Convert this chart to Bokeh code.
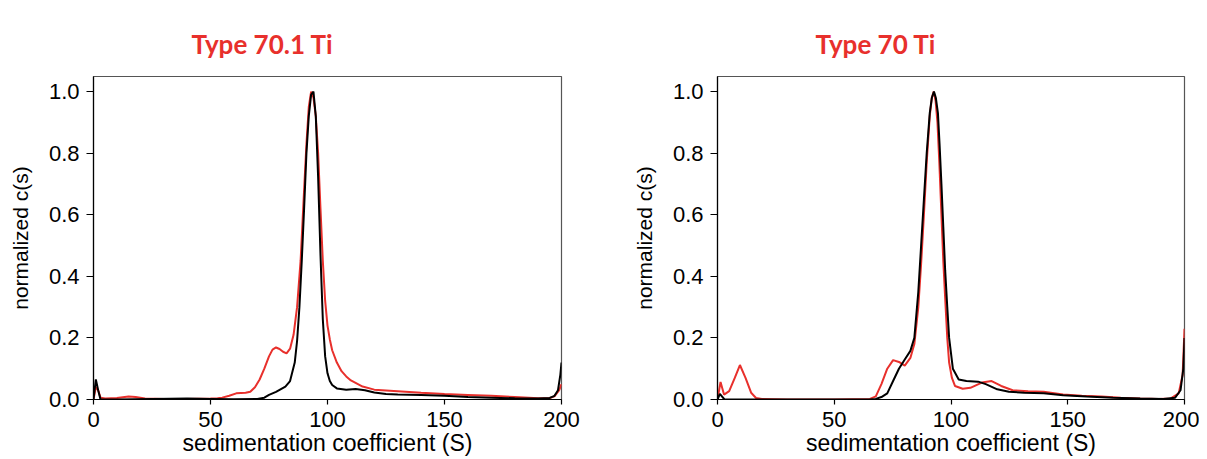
from bokeh.plotting import figure
from bokeh.layouts import row
from bokeh.models import Range1d, FixedTicker
from bokeh.embed import file_html
from bokeh.resources import INLINE

titles = ["Type 70.1 Ti", "Type 70 Ti"]
x_label = "sedimentation coefficient (S)"
y_label = "normalized c(s)"
x_ticks = [0, 50, 100, 150, 200]
y_ticks = [0.0, 0.2, 0.4, 0.6, 0.8, 1.0]

# Type 70.1 Ti - red
l_red_x = [0, 1, 2, 3, 5, 10, 15, 18, 22, 30, 40, 50, 53, 55, 58, 61, 65, 67, 69, 71, 73, 75, 76.5, 78, 79.5,
           81, 82.5, 84, 85.5, 87, 88.5, 90, 91, 92, 93, 94, 95, 96, 97, 98, 99, 100, 101, 102, 104, 106, 108,
           110, 115, 120, 130, 140, 150, 160, 170, 180, 190, 195, 197, 199, 200]
l_red_y = [0.0, 0.04, 0.03, 0.006, 0.003, 0.005, 0.01, 0.008, 0.003, 0.002, 0.002, 0.003, 0.004, 0.006, 0.012,
           0.02, 0.022, 0.025, 0.04, 0.065, 0.1, 0.14, 0.162, 0.169, 0.164, 0.155, 0.15, 0.165, 0.21, 0.3, 0.45,
           0.68, 0.83, 0.95, 1.0, 0.98, 0.92, 0.8, 0.62, 0.45, 0.32, 0.24, 0.195, 0.16, 0.12, 0.092, 0.075,
           0.062, 0.042, 0.032, 0.027, 0.022, 0.018, 0.015, 0.012, 0.008, 0.004, 0.005, 0.01, 0.03, 0.05]

# Type 70.1 Ti - black
l_blk_x = [0, 1, 2, 3, 10, 40, 50, 60, 70, 73, 75, 78, 82, 84, 86, 87, 88, 89, 90, 91, 92, 93, 94, 95, 96, 97,
           98, 99, 100, 101, 102, 104, 108, 112, 116, 120, 125, 130, 140, 150, 160, 170, 180, 190, 195, 197,
           198.5, 199.5, 200]
l_blk_y = [0.0, 0.065, 0.03, 0.0, 0.0, 0.003, 0.002, 0.001, 0.002, 0.006, 0.015, 0.025, 0.042, 0.06, 0.12, 0.19,
           0.3, 0.45, 0.62, 0.8, 0.92, 0.99, 1.0, 0.92, 0.72, 0.47, 0.26, 0.14, 0.085, 0.06, 0.047, 0.036,
           0.032, 0.034, 0.03, 0.023, 0.018, 0.016, 0.015, 0.012, 0.008, 0.006, 0.004, 0.003, 0.005, 0.012,
           0.03, 0.08, 0.12]

# Type 70 Ti - red
r_red_x = [0, 1.3, 2.8, 5, 7.4, 9.6, 12, 14.4, 16.5, 19, 30, 50, 65.3, 67.8, 70.2, 72.7, 75.2, 77.7, 80.2, 82.6,
           84.3, 86, 87.2, 88.4, 89.6, 90.9, 91.8, 92.6, 93.4, 94.2, 95, 95.9, 96.7, 97.5, 98.4, 99.2, 100.4,
           101.7, 105, 108.3, 113.2, 117.4, 121.5, 126.4, 133, 139.7, 148, 156, 164.5, 172.7, 181, 189, 194,
           197.5, 199.2, 200]
r_red_y = [0.0, 0.057, 0.016, 0.027, 0.07, 0.112, 0.07, 0.022, 0.005, 0.002, 0.0, 0.0, 0.002, 0.01, 0.05, 0.1,
           0.128, 0.122, 0.11, 0.135, 0.18, 0.3, 0.44, 0.6, 0.77, 0.92, 0.98, 1.0, 0.97, 0.9, 0.77, 0.6, 0.45,
           0.33, 0.2, 0.12, 0.07, 0.044, 0.035, 0.038, 0.055, 0.06, 0.044, 0.03, 0.027, 0.025, 0.016, 0.012,
           0.01, 0.006, 0.003, 0.002, 0.003, 0.02, 0.08, 0.23]

# Type 70 Ti - black
r_blk_x = [0, 1, 3, 30, 65, 67.8, 70.2, 72.7, 75.2, 77.7, 80.2, 82.6, 84.3, 86, 87.2, 88.4, 89.6, 90.9, 91.8,
           92.7, 93.5, 94.4, 95.1, 95.9, 96.7, 97.5, 98.4, 99.2, 100.8, 103.3, 106.6, 111.6, 114.9, 119.8,
           124.8, 131.4, 139.7, 148, 158, 169.4, 181, 191, 196, 198.3, 199.5, 200]
r_blk_y = [0.0, 0.018, 0.0, 0.0, 0.0, 0.002, 0.008, 0.02, 0.06, 0.1, 0.13, 0.158, 0.2, 0.35, 0.5, 0.65, 0.8, 0.93,
           0.98, 1.0, 0.98, 0.93, 0.83, 0.7, 0.56, 0.42, 0.3, 0.2, 0.1, 0.065, 0.06, 0.058, 0.05, 0.033, 0.025,
           0.022, 0.02, 0.014, 0.01, 0.006, 0.003, 0.002, 0.006, 0.03, 0.1, 0.2]

RED = "#e8302c"
FONT = "Liberation Sans"


def make_panel(title, rx, ry, bx, by, width, right):
    p = figure(width=width, height=458, output_backend="svg", toolbar_location=None,
               x_range=Range1d(0, 200), y_range=Range1d(0, 1.049),
               min_border_left=93, min_border_right=right, min_border_top=76, min_border_bottom=56)
    p.title.text = title
    p.title.align = "left"
    p.title.vertical_align = "top"
    p.title.offset = 98
    p.title.standoff = 30
    p.title.text_color = RED
    p.title.text_font = "Lato"
    p.title.text_font_style = "bold"
    p.title.text_font_size = "26px"

    p.line(rx, ry, line_color=RED, line_width=2)
    p.line(bx, by, line_color="black", line_width=2)

    xaxis = p.below[0]
    yaxis = p.left[0]

    p.grid.visible = False
    p.outline_line_color = "#555555"
    p.outline_line_width = 1.2
    for ax in (xaxis, yaxis):
        ax.axis_line_color = "black"
        ax.axis_line_width = 1.2
        ax.major_tick_line_color = "black"
        ax.major_tick_line_width = 1.2
        ax.minor_tick_line_color = None
        ax.major_tick_in = 0
        ax.major_label_text_font = FONT
        ax.major_label_text_font_size = "22px"
        ax.major_label_text_color = "black"
        ax.axis_label_text_font = FONT
        ax.axis_label_text_font_style = "normal"
        ax.axis_label_text_color = "black"
    xaxis.axis_label_text_font_size = "23px"
    yaxis.axis_label_text_font_size = "21px"
    xaxis.ticker = FixedTicker(ticks=x_ticks)
    yaxis.ticker = FixedTicker(ticks=y_ticks)
    yaxis.major_tick_out = 7
    xaxis.major_tick_out = 5
    yaxis.major_label_overrides = {t: f"{t:.1f}" for t in y_ticks}
    xaxis.axis_label = x_label
    yaxis.axis_label = y_label
    xaxis.axis_label_standoff = 0
    yaxis.axis_label_standoff = 14
    xaxis.major_label_standoff = 7
    yaxis.major_label_standoff = 7
    return p


p1 = make_panel(titles[0], l_red_x, l_red_y, l_blk_x, l_blk_y, 624, 63)
p2 = make_panel(titles[1], r_red_x, r_red_y, r_blk_x, r_blk_y, 575, 15)
layout = row(p1, p2, spacing=0)

open("out.html", "w").write(file_html(layout, INLINE))
